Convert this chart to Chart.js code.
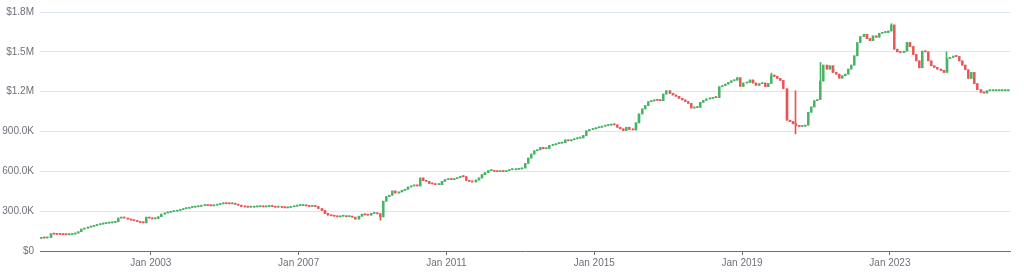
<!DOCTYPE html>
<html>
<head>
<meta charset="utf-8">
<script src="https://cdn.jsdelivr.net/npm/chart.js@4.4.1/dist/chart.umd.min.js"></script>
<style>
  html, body { margin: 0; padding: 0; background: #fff; }
</style>
</head>
<body>
<canvas id="priceChart" width="1024" height="272"></canvas>
<script>
// Monthly closes in $K, Jan 2000 .. Mar 2026 (one row per year)
const monthlyCloses = [
  100, 98, 102, 130, 127, 125, 124, 123, 122, 124, 128, 135,
  145, 165, 172, 180, 185, 192, 198, 203, 207, 210, 212, 215,
  220, 248, 252, 248, 240, 233, 228, 222, 215, 212, 255, 248,
  242, 245, 258, 278, 287, 292, 296, 300, 305, 312, 318, 322,
  328, 330, 333, 337, 342, 345, 342, 340, 345, 350, 355, 358,
  356, 355, 358, 352, 345, 335, 332, 330, 330, 332, 333, 335,
  332, 335, 338, 335, 330, 333, 328, 325, 328, 333, 338, 342,
  342, 345, 340, 335, 338, 335, 320, 305, 283, 270, 265, 262,
  257, 262, 265, 258, 260, 255, 240, 262, 277, 272, 270, 283,
  283, 280, 257, 375, 410, 420, 452, 437, 445, 457, 465, 482,
  490, 495, 490, 550, 530, 525, 508, 505, 500, 500, 525, 538,
  540, 538, 545, 552, 562, 560, 532, 525, 520, 535, 550, 575,
  590, 605, 607, 600, 597, 600, 598, 605, 612, 612, 615, 618,
  625, 660, 700, 730, 755, 762, 780, 770, 772, 795, 800, 808,
  812, 815, 837, 830, 838, 845, 850, 852, 870, 905, 915, 920,
  928, 932, 940, 945, 948, 952, 950, 932, 920, 907, 932, 915,
  912, 965, 1032, 1070, 1095, 1125, 1130, 1138, 1135, 1132, 1182, 1207,
  1187, 1175, 1165, 1150, 1138, 1125, 1112, 1077, 1080, 1082, 1120, 1135,
  1145, 1150, 1157, 1155, 1237, 1245, 1257, 1270, 1282, 1287, 1305, 1240,
  1265, 1270, 1288, 1265, 1248, 1260, 1265, 1238, 1262, 1325, 1315, 1300,
  1285, 1222, 985, 975, 958, 945, 938, 940, 948, 1045, 1085, 1132,
  1140, 1280, 1400, 1370, 1395, 1345, 1332, 1302, 1320, 1332, 1370, 1400,
  1470, 1570, 1615, 1632, 1600, 1585, 1620, 1610, 1640, 1645, 1645, 1657,
  1702, 1520, 1500, 1495, 1505, 1570, 1540, 1480, 1432, 1380, 1505, 1500,
  1432, 1395, 1383, 1370, 1360, 1345, 1450, 1458, 1468, 1465, 1432, 1400,
  1365, 1300, 1345, 1260, 1215, 1195, 1190, 1207, 1207, 1207, 1207, 1207,
  1207, 1207, 1207
];
const firstOpen = 95;

// months (index from Jan 2000) with visible shadows, in $K
const wickMonths = [110, 237, 245, 253, 276, 294];
const wickLows   = [232, 1262, 882, 1140, 1657, 1345];
const wickHighs  = [283, 1340, 1207, 1420, 1712, 1500];

const xTickMonths = [36, 84, 132, 180, 228, 276];
const xTickLabels = ['Jan 2003', 'Jan 2007', 'Jan 2011', 'Jan 2015', 'Jan 2019', 'Jan 2023'];
const yTickLabels = ['$0', '300.0K', '600.0K', '900.0K', '$1.2M', '$1.5M', '$1.8M'];

const upColor = '#47b262';
const downColor = '#eb5454';
const K = 1000;

const candles = monthlyCloses.map((close, i) => {
  const open = i === 0 ? firstOpen : monthlyCloses[i - 1];
  let low = Math.min(open, close);
  let high = Math.max(open, close);
  const w = wickMonths.indexOf(i);
  if (w >= 0) {
    low = Math.min(low, wickLows[w]);
    high = Math.max(high, wickHighs[w]);
  }
  return { x: i + 0.5, open: open * K, close: close * K, low: low * K, high: high * K };
});

const candleColor = ctx => {
  const c = candles[ctx.dataIndex];
  return c && c.close < c.open ? downColor : upColor;
};

// snap candles to the pixel grid so neighbours keep a visible gap
const snapCandles = {
  id: 'snapCandles',
  beforeDatasetsDraw(chart) {
    chart.data.datasets.forEach((ds, i) => {
      const shift = ds.snapShift || 0;
      chart.getDatasetMeta(i).data.forEach(el => {
        el.x = Math.round(el.x - shift) + shift;
      });
    });
  }
};

const textFont = { family: "'Liberation Sans', Arial, sans-serif", size: 10 };

new Chart(document.getElementById('priceChart'), {
  type: 'bar',
  data: {
    datasets: [
      {
        label: 'body',
        data: candles.map(c => ({ x: c.x, y: [c.open, c.close] })),
        backgroundColor: candleColor,
        borderWidth: 0,
        barThickness: 1.6,
        minBarLength: 1,
        grouped: false,
        snapShift: 0.2,
        order: 1
      },
      {
        label: 'wick',
        data: candles.map(c => ({ x: c.x, y: [c.low, c.high] })),
        backgroundColor: candleColor,
        borderWidth: 0,
        barThickness: 1,
        minBarLength: 1,
        grouped: false,
        snapShift: 0.5,
        order: 2
      }
    ]
  },
  plugins: [snapCandles],
  options: {
    responsive: false,
    animation: false,
    devicePixelRatio: 1,
    layout: { padding: { top: 11, right: 14, left: 0, bottom: 0 } },
    plugins: { legend: { display: false }, tooltip: { enabled: false } },
    scales: {
      x: {
        type: 'linear',
        min: 0,
        max: monthlyCloses.length,
        offset: false,
        afterFit: s => { s.height = 21; },
        afterBuildTicks: s => { s.ticks = xTickMonths.map(v => ({ value: v })); },
        ticks: {
          autoSkip: false,
          maxRotation: 0,
          padding: 2,
          color: '#6E7079',
          font: textFont,
          callback: v => xTickLabels[xTickMonths.indexOf(v)]
        },
        grid: { display: true, drawOnChartArea: false, offset: false, tickLength: 4, color: '#6E7079' },
        border: { display: true, color: '#6E7079', width: 1 }
      },
      y: {
        min: 0,
        max: 1800000,
        afterFit: s => { s.width = 40; },
        ticks: {
          stepSize: 300000,
          padding: 6,
          color: '#6E7079',
          font: textFont,
          callback: (v, i) => yTickLabels[i]
        },
        grid: { color: '#E0E6F1', drawTicks: false },
        border: { display: false }
      }
    }
  }
});
</script>
</body>
</html>
